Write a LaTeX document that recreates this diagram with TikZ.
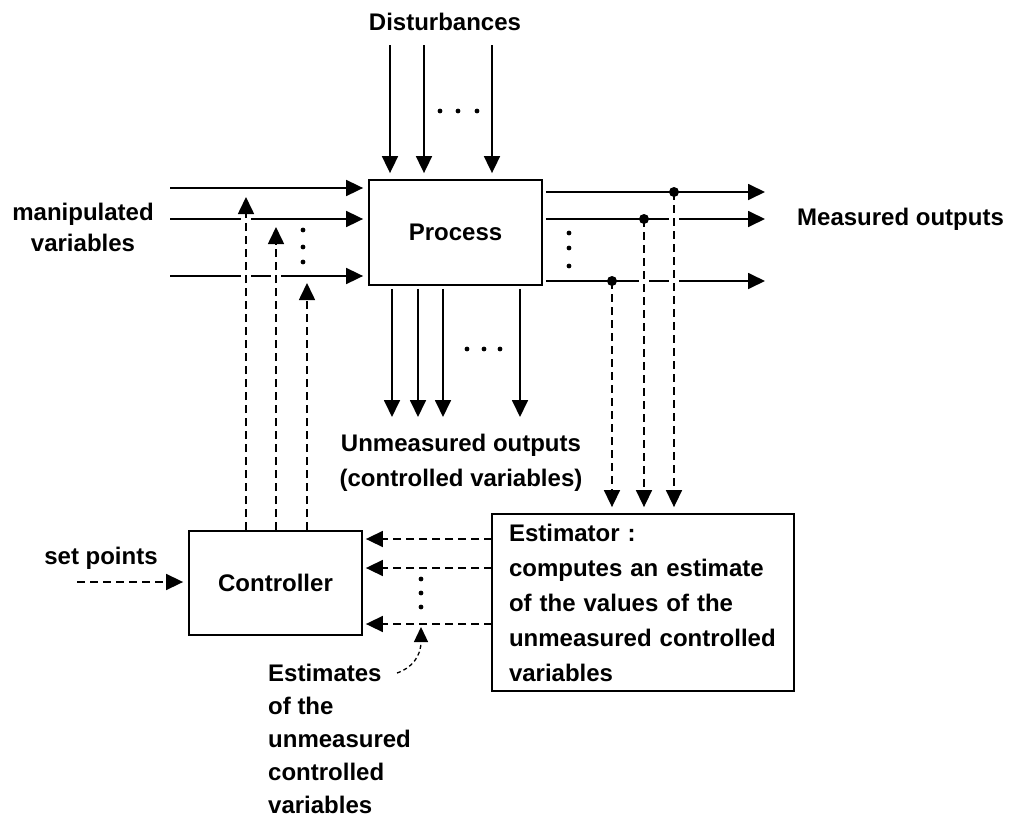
\documentclass[tikz,border=0pt]{standalone}
\usepackage{fontspec}
\setmainfont{Liberation Sans}
\usetikzlibrary{arrows.meta}
\begin{document}
\begin{tikzpicture}[x=1pt,y=-1pt,
  every node/.style={font=\fontsize{24}{35}\selectfont\bfseries, inner sep=0pt},
  box/.style={draw, line width=1.8pt, fill=white},
  solidarrow/.style={line width=1.8pt, -{Triangle[length=17pt,width=16pt]}},
  dasharrow/.style={line width=1.6pt, dash pattern=on 8pt off 5pt, -{Triangle[length=17pt,width=16pt]}},
  smallarrow/.style={line width=1.3pt, dash pattern=on 4pt off 3pt, -{Triangle[length=15pt,width=14pt]}},
  junction/.style={fill=black},
  dotmark/.style={fill=black}]
\useasboundingbox (0,0) rectangle (1013,819);

% boxes
\node[box, minimum width=173pt, minimum height=105pt] (process) at (455.5,232.5) {Process};
\node[box, minimum width=173pt, minimum height=104pt] (ctrl) at (275.5,583) {Controller};
\node[box, text width=268pt, inner xsep=17pt, minimum height=177pt, align=left] (est) at (643,602.5)
  {Estimator :\\computes an estimate\\of the values of the\\unmeasured controlled\\variables};

% labels
\node (dist) at (445,22) {Disturbances};
\node[align=center, font=\fontsize{24}{31}\selectfont\bfseries] (manip) at (83,227.5) {manipulated\\variables};
\node[anchor=west] (meas) at (797,219) {Measured outputs};
\node[align=center] (unmeas) at (461,462.5) {Unmeasured outputs\\(controlled variables)};
\node (sp) at (101,558) {set points};
\node[align=left, anchor=west, font=\fontsize{24}{33}\selectfont\bfseries] (estlabel) at (268,739)
  {Estimates\\of the\\unmeasured\\controlled\\variables};

% coordinates
\coordinate (d1) at (390,45);
\coordinate (d2) at (424,45);
\coordinate (d3) at (492,45);
\coordinate (i1) at (170,188);
\coordinate (i2) at (170,219);
\coordinate (i3) at (170,276);
\coordinate (o1) at (765,192);
\coordinate (o2) at (765,219);
\coordinate (o3) at (765,281);
\coordinate (u1) at (392,417);
\coordinate (u2) at (418,417);
\coordinate (u3) at (443,417);
\coordinate (u4) at (520,417);
\coordinate (j1) at (674,192);
\coordinate (j2) at (644,219);
\coordinate (j3) at (612,281);
\coordinate (c1) at (246,197);
\coordinate (c2) at (276,227);
\coordinate (c3) at (307,283);
\coordinate (e1) at (492,539);
\coordinate (e2) at (492,568);
\coordinate (e3) at (492,624);
\coordinate (s0) at (77,582);
\coordinate (t0) at (397,673);
\coordinate (t1) at (421,627);

% disturbances
\foreach \c in {d1,d2,d3}
  \draw[solidarrow, shorten >=6pt] (\c) -- (\c |- process.north);
% manipulated inputs
\foreach \c in {i1,i2,i3}
  \draw[solidarrow, shorten >=5pt] (\c) -- (\c -| process.west);
% measured outputs
\foreach \c in {o1,o2,o3}
  \draw[solidarrow, shorten <=3pt] (\c -| process.east) -- (\c);
% unmeasured outputs
\foreach \c in {u1,u2,u3,u4}
  \draw[solidarrow, shorten <=3pt] (\c |- process.south) -- (\c);

% gaps where dashed lines cross solid ones
\foreach \p in {(246,219),(246,276),(276,276),(644,281),(674,219),(674,281)}
  \fill[white] \p ++(-5,-4) rectangle ++(10,8);

% junction dots
\foreach \c in {j1,j2,j3}
  \fill[junction] (\c) circle (5pt);

% measurements to estimator
\foreach \c in {j1,j2,j3}
  \draw[dasharrow, shorten >=6pt] (\c) -- (\c |- est.north);

% controller outputs
\foreach \c in {c1,c2,c3}
  \draw[dasharrow] (\c |- ctrl.north) -- (\c);

% estimates to controller
\foreach \c in {e1,e2,e3}
  \draw[dasharrow, shorten >=3pt] (\c) -- (\c -| ctrl.east);

% set points
\draw[dasharrow, shorten >=5pt] (s0) -- (s0 -| ctrl.west);

% label pointer
\draw[smallarrow] (t0) .. controls (412,668) and (421,656) .. (t1);

% ellipsis dots
\foreach \x in {440,458,477} \fill[dotmark] (\x,111) circle (2.4pt);
\foreach \y in {230,247,262} \fill[dotmark] (303,\y) circle (2.4pt);
\foreach \y in {233,248,266} \fill[dotmark] (569,\y) circle (2.4pt);
\foreach \x in {467,484,500} \fill[dotmark] (\x,349) circle (2.4pt);
\foreach \y in {579,593,607} \fill[dotmark] (421,\y) circle (2.4pt);
\end{tikzpicture}
\end{document}
